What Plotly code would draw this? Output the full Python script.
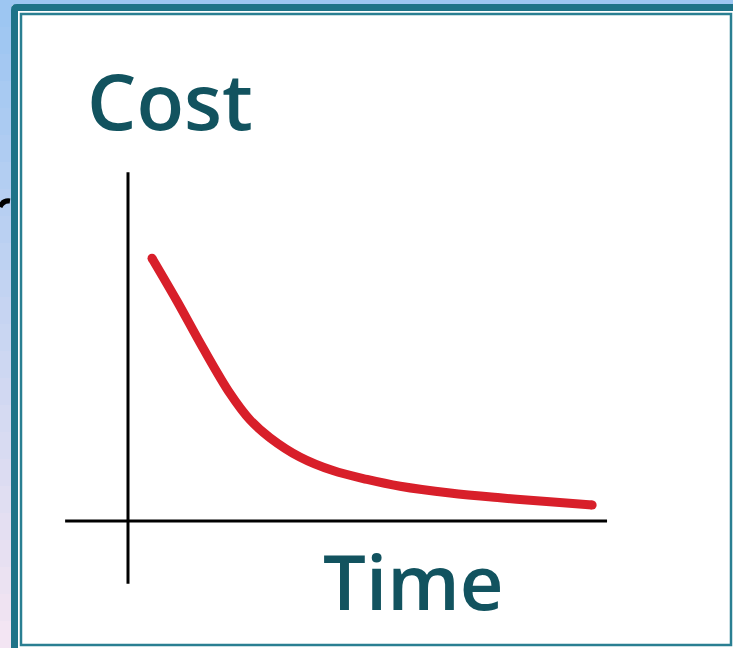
import plotly.graph_objects as go

W, H = 733, 648

# Curve data (time units, cost units)
time_vals = [0.5, 1.02, 1.56, 2.13, 2.54, 2.96, 3.58, 4.27, 4.98, 5.67, 6.71, 7.75, 8.79, 9.67]
cost_vals = [6.57, 5.5, 4.33, 3.18, 2.53, 2.08, 1.6, 1.26, 1.04, 0.87, 0.7, 0.58, 0.48, 0.4]

# Axis extents (data units)
time_axis = [-1.31, 9.98]
cost_axis = [-1.57, 8.72]

x_label = "Time"
y_label = "Cost"

TEAL = "#1E7388"
TEXT = "#12535F"
RED = "#D81F2A"

fig = go.Figure()

# Axes lines
fig.add_trace(go.Scatter(x=time_axis, y=[0, 0], mode="lines",
                         line=dict(color="black", width=3), hoverinfo="skip", showlegend=False))
fig.add_trace(go.Scatter(x=[0, 0], y=cost_axis, mode="lines",
                         line=dict(color="black", width=3), hoverinfo="skip", showlegend=False))
# Cost curve
fig.add_trace(go.Scatter(x=time_vals, y=cost_vals, mode="lines",
                         line=dict(color=RED, width=9, shape="spline", smoothing=1.0),
                         hoverinfo="skip", showlegend=False))
# rounded ends of the curve
fig.add_trace(go.Scatter(x=[time_vals[0], time_vals[-1]], y=[cost_vals[0], cost_vals[-1]],
                         mode="markers", marker=dict(color=RED, size=9, line=dict(width=0)),
                         hoverinfo="skip", showlegend=False))

def px(x):
    return x / W

def py(y):
    return 1 - y / H

shapes = []
# background gradient strip on the left / top
top = (157, 198, 242)
bot = (243, 229, 243)
n = 24
for i in range(n):
    f = i / (n - 1)
    c = tuple(int(top[k] + (bot[k] - top[k]) * f) for k in range(3))
    col = "rgb(%d,%d,%d)" % c
    shapes.append(dict(type="rect", xref="paper", yref="paper",
                       x0=px(0), x1=px(12), y0=py(i * H / n), y1=py((i + 1) * H / n + 1),
                       fillcolor=col, line=dict(width=0), layer="below"))
shapes.append(dict(type="rect", xref="paper", yref="paper",
                   x0=px(0), x1=px(W), y0=py(0), y1=py(5),
                   fillcolor="rgb(157,198,242)", line=dict(width=0), layer="below"))
# outer thick teal border (rounded corner)
shapes.append(dict(type="path", xref="paper", yref="paper",
                   path="M %f %f L %f %f Q %f %f %f %f L %f %f L %f %f L %f %f L %f %f L %f %f Z" % (
                       px(11), py(H), px(11), py(10), px(11), py(4), px(17), py(4),
                       px(W), py(4), px(W), py(11), px(18), py(11), px(18), py(H), px(11), py(H)),
                   fillcolor=TEAL, line=dict(width=0), layer="below"))
# inner thin teal border
shapes.append(dict(type="rect", xref="paper", yref="paper",
                   x0=px(21), x1=px(731), y0=py(14), y1=py(645),
                   line=dict(color="#2A7F92", width=2.5), fillcolor="rgba(0,0,0,0)", layer="below"))
# black fragment at the left edge
shapes.append(dict(type="path", xref="paper", yref="paper",
                   path="M %f %f Q %f %f %f %f" % (px(0), py(207), px(3), py(200), px(10), py(201)),
                   line=dict(color="black", width=5), layer="above"))

fig.update_layout(
    width=W, height=H, autosize=False,
    margin=dict(l=0, r=0, t=0, b=0, pad=0),
    paper_bgcolor="white", plot_bgcolor="rgba(0,0,0,0)",
    xaxis=dict(range=[-128 / 48, (W - 128) / 48], visible=False, fixedrange=True),
    yaxis=dict(range=[(521 - H) / 40, 521 / 40], visible=False, fixedrange=True),
    shapes=shapes,
    annotations=[
        dict(text=y_label, xref="paper", yref="paper", x=px(85), y=py(100),
             xanchor="left", yanchor="middle", showarrow=False,
             font=dict(family="Open Sans", size=78, color=TEXT, weight=600)),
        dict(text=x_label, xref="paper", yref="paper", x=px(321), y=py(580),
             xanchor="left", yanchor="middle", showarrow=False,
             font=dict(family="Open Sans", size=76, color=TEXT, weight=600)),
    ],
)

fig.write_html("out.html", config={"displayModeBar": False},
               post_script="document.body.style.margin='0';document.body.style.overflow='hidden';")
